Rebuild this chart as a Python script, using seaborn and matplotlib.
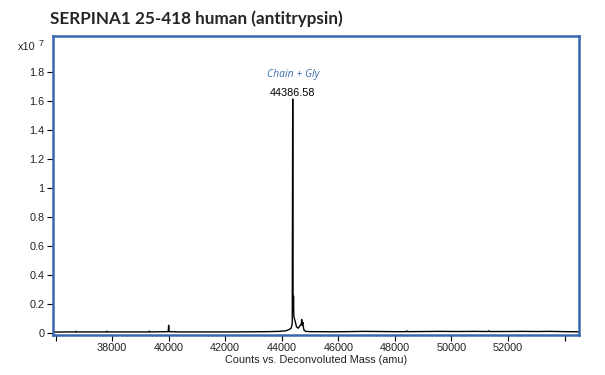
import matplotlib
matplotlib.use("Agg")
import matplotlib.pyplot as plt
import seaborn as sns
import pandas as pd

# Deconvoluted mass spectrum (intensity in units of 1e7 counts)
mass = [35900, 36300, 36700, 36720, 36740, 37300, 37800, 37820, 37840, 38400,
        38900, 39300, 39320, 39340, 39700, 39985, 40000, 40015, 40400, 40900,
        41500, 42200, 42900, 43500, 43900, 44150, 44250, 44330, 44370, 44386.58,
        44400, 44415, 44425, 44440, 44470, 44520, 44580, 44640, 44690, 44705,
        44720, 44745, 44760, 44790, 44850, 45000, 45400, 45800, 46300, 46900,
        47500, 48000, 48400, 48420, 48440, 49000, 49600, 50200, 50800, 51300,
        51320, 51340, 51900, 52500, 53000, 53500, 54000, 54500]
intensity = [0.003, 0.004, 0.004, 0.008, 0.004, 0.004, 0.004, 0.009, 0.004, 0.004,
             0.004, 0.004, 0.010, 0.004, 0.005, 0.006, 0.050, 0.006, 0.004, 0.004,
             0.004, 0.004, 0.005, 0.006, 0.008, 0.012, 0.020, 0.030, 0.060, 1.610,
             0.150, 0.250, 0.120, 0.100, 0.080, 0.040, 0.030, 0.045, 0.060, 0.090,
             0.050, 0.070, 0.040, 0.015, 0.008, 0.006, 0.006, 0.005, 0.006, 0.008,
             0.007, 0.006, 0.006, 0.012, 0.006, 0.007, 0.008, 0.007, 0.008, 0.007,
             0.012, 0.007, 0.007, 0.008, 0.007, 0.008, 0.006, 0.005]

x_ticks = [36000, 38000, 40000, 42000, 44000, 46000, 48000, 50000, 52000, 54000]
x_tick_labels = ["", "38000", "40000", "42000", "44000", "46000", "48000", "50000", "52000", ""]
y_ticks = [0, 0.2, 0.4, 0.6, 0.8, 1.0, 1.2, 1.4, 1.6, 1.8]
y_tick_labels = ["0", "0.2", "0.4", "0.6", "0.8", "1", "1.2", "1.4", "1.6", "1.8"]

peak_mass = 44386.58
peak_height = 1.61
peak_name = "Chain + Gly"
title = "SERPINA1 25-418 human (antitrypsin)"
xlabel = "Counts vs. Deconvoluted Mass (amu)"

sns.set_style("white")
plt.rcParams["font.family"] = ["Liberation Sans", "DejaVu Sans"]

fig = plt.figure(figsize=(6.05, 3.75), dpi=100)
ax = fig.add_axes([52.7 / 605, 1 - 335 / 375, (579 - 52.7) / 605, (335 - 35.7) / 375])

df = pd.DataFrame({"mass": mass, "intensity": intensity})
sns.lineplot(data=df, x="mass", y="intensity", ax=ax, color="black", linewidth=1.0, estimator=None, sort=False)

ax.set_xlim(35900, 54510)
ax.set_ylim(-0.017, 2.047)
ax.set_xticks(x_ticks)
ax.set_xticklabels(x_tick_labels)
ax.set_yticks(y_ticks)
ax.set_yticklabels(y_tick_labels)
ax.tick_params(axis="both", bottom=True, left=True, labelsize=7.8, colors="black", length=4, width=0.8,
               direction="out", pad=2)
ax.tick_params(axis="x", labelcolor="#222222")
ax.tick_params(axis="y", labelcolor="#222222")
ax.set_xlabel(xlabel, fontsize=7.8, labelpad=1, color="#222222")
ax.set_ylabel("")

border = "#3a66b0"
for s in ax.spines.values():
    s.set_visible(True)
    s.set_color(border)
    s.set_linewidth(1.8)

ax.annotate(f"{peak_mass:.2f}", xy=(peak_mass, peak_height), xytext=(0, 1), textcoords="offset points",
            ha="center", va="bottom", fontsize=7.8, color="black")
ax.annotate(peak_name, xy=(peak_mass, peak_height), xytext=(0, 14), textcoords="offset points",
            ha="center", va="bottom", fontsize=7.5, color="#3a6fb0", style="italic",
            family=["Open Sans", "DejaVu Sans"])

fig.text(18 / 605, 1 - 47 / 375, "x10", fontsize=7.8, color="#222222", va="center", ha="left")
fig.text(39 / 605, 1 - 43 / 375, "7", fontsize=6.5, color="#222222", va="center", ha="left")

fig.text(50 / 605, 1 - 19 / 375, title, fontsize=12.3, fontweight="bold", va="center", ha="left",
         family=["Lato", "DejaVu Sans"])

fig.savefig("out.png", dpi=100)
